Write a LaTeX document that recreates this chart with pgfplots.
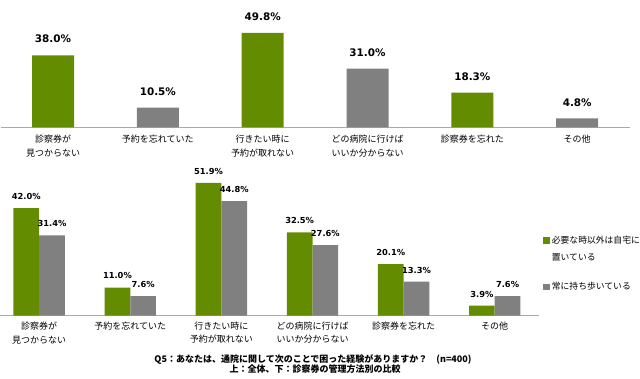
\documentclass[border=0pt]{standalone}
\usepackage{pgfplots}
\pgfplotsset{compat=1.18}
\usepackage{fontspec}
\setmainfont{DejaVu Sans}
\newfontfamily\jp{Noto Sans CJK JP}
\definecolor{cgreen}{RGB}{99,140,0}
\definecolor{cgray}{RGB}{128,128,128}
\definecolor{caxis}{RGB}{170,170,170}
\begin{document}
\begin{tikzpicture}
\useasboundingbox (0bp,0bp) rectangle (640bp,379bp);
\pgfplotsset{
  common/.style={
    scale only axis,
    axis x line=bottom, axis y line=none,
    axis line style={caxis, line width=0.8bp, -},
    ymin=0, ymax=60,
    xtick={0,1,2,3,4,5},
    major tick length=0pt,
    xticklabels={{診察券が\\見つからない},{予約を忘れていた},{行きたい時に\\予約が取れない},{どの病院に行けば\\いいか分からない},{診察券を忘れた},{その他}},
    xticklabel style={font={\jp\fontsize{9bp}{13.6bp}\selectfont}, align=center, inner sep=0pt, yshift=-5.9bp},
    /pgf/number format/assume math mode=true,
    nodes near coords={\pgfmathprintnumber[fixed,fixed zerofill,precision=1]{\pgfplotspointmeta}\%},
    clip=false,
  }
}
% Top chart
\begin{axis}[common,
  at={(0.6bp,251.5bp)}, anchor=south west,
  width=629bp, height=114bp,
  xmin=-0.5, xmax=5.5,
  xticklabel style={yshift=-1.5bp},
  ybar, bar width=42bp,
  every node near coord/.append style={font=\bfseries\fontsize{10.4bp}{12bp}\selectfont, inner sep=0pt, anchor=south, yshift=12bp, black},
]
\addplot[fill=cgreen, draw=none, bar shift=0pt] coordinates {(0,38.0) (2,49.8) (4,18.3)};
\addplot[fill=cgray, draw=none, bar shift=0pt] coordinates {(1,10.5) (3,31.0) (5,4.8)};
\end{axis}
% Bottom chart
\begin{axis}[common,
  at={(0bp,63.3bp)}, anchor=south west,
  width=538.9bp, height=153.6bp,
  xmin=-0.43, xmax=5.485,
  ybar, bar width=25.7bp,
  every node near coord/.append style={font=\bfseries\fontsize{8.3bp}{10bp}\selectfont, inner sep=0pt, anchor=south, yshift=8.3bp, black},
  legend style={at={(axis description cs:1.0076,0.532)}, anchor=north west, draw=none, fill=none, inner sep=0pt, row sep=4.6bp,
    font={\jp\fontsize{8.8bp}{10bp}\selectfont}, cells={anchor=base west}},
  legend image code/.code={\fill[#1] (0bp,-0.3bp) rectangle (6.7bp,6.4bp);},
]
\addplot[fill=cgreen, draw=none, bar shift=-12.85bp] coordinates {(0,42.0) (1,11.0) (2,51.9) (3,32.5) (4,20.1) (5,3.9)};
\addlegendentry{必要な時以外は自宅に}
\addlegendimage{legend image code/.code={}}
\addlegendentry{置いている}
\addplot[fill=cgray, draw=none, bar shift=12.85bp] coordinates {(0,31.4) (1,7.6) (2,44.8) (3,27.6) (4,13.3) (5,7.6)};
\addlegendentry{\rule{0pt}{19.2bp}常に持ち歩いている}
\end{axis}
\node[anchor=base, font={\jp\bfseries\fontsize{9bp}{10bp}\selectfont}, inner sep=0pt] at (313bp,16.5bp) {Q5：あなたは、通院に関して次のことで困った経験がありますか？　(n=400)};
\node[anchor=base, font={\jp\bfseries\fontsize{9bp}{10bp}\selectfont}, inner sep=0pt] at (315bp,6.5bp) {上：全体、下：診察券の管理方法別の比較};
\end{tikzpicture}
\end{document}
